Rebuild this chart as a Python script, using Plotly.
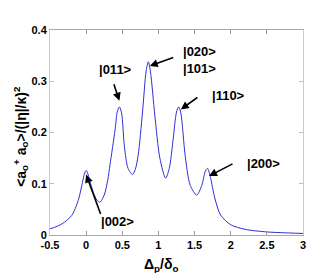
import plotly.graph_objects as go

x_vals = [-0.5, -0.4, -0.3, -0.2, -0.15, -0.1, -0.05, -0.02, 0.0, 0.02, 0.05, 0.1, 0.15, 0.19,
          0.25, 0.3, 0.33, 0.4, 0.43, 0.46, 0.49, 0.53, 0.58, 0.64, 0.68, 0.72, 0.78, 0.83,
          0.86, 0.89, 0.95, 1.02, 1.1, 1.15, 1.2, 1.25, 1.28, 1.31, 1.37, 1.44, 1.53, 1.6,
          1.65, 1.68, 1.72, 1.78, 1.86, 2.0, 2.2, 2.5, 2.8, 3.0]
y_vals = [0.012, 0.017, 0.025, 0.038, 0.052, 0.072, 0.103, 0.121, 0.126, 0.121, 0.106, 0.083, 0.068, 0.064,
          0.078, 0.108, 0.137, 0.205, 0.24, 0.25, 0.238, 0.172, 0.13, 0.118, 0.128, 0.156, 0.24, 0.32,
          0.338, 0.318, 0.234, 0.15, 0.111, 0.13, 0.182, 0.24, 0.25, 0.238, 0.155, 0.097, 0.078, 0.097,
          0.125, 0.13, 0.112, 0.072, 0.039, 0.02, 0.011, 0.006, 0.004, 0.003]

x_ticks = [-0.5, 0, 0.5, 1, 1.5, 2, 2.5, 3]
x_tick_labels = ["-0.5", "0", "0.5", "1", "1.5", "2", "2.5", "3"]
y_ticks = [0, 0.1, 0.2, 0.3, 0.4]
y_tick_labels = ["0", "0.1", "0.2", "0.3", "0.4"]

state_labels = ["|002>", "|011>", "|020><br>|101>", "|110>", "|200>"]
label_x = [0.44, 0.41, 1.31, 1.71, 2.20]
label_y = [0.026, 0.322, 0.341, 0.272, 0.140]
label_anchor = ["center", "center", "left", "left", "left"]
arrow_x = [0.0, 0.46, 0.88, 1.31, 1.70]
arrow_y = [0.118, 0.262, 0.33, 0.245, 0.115]
arrow_ax = [15, -6, 25, 18, 25]
arrow_ay = [41, -18, -9, -13, -13]

FONT = "Liberation Sans Narrow, Arial Narrow, Liberation Sans, Arial"

fig = go.Figure()
fig.add_trace(go.Scatter(x=x_vals, y=y_vals, mode="lines",
                         line=dict(color="#2f2fd8", width=1, shape="spline", smoothing=0.8),
                         showlegend=False, hoverinfo="skip"))

annotations = []
for t, lx, ly, anc in zip(state_labels, label_x, label_y, label_anchor):
    annotations.append(dict(x=lx, y=ly, xref="x", yref="y", text="<b>" + t + "</b>",
                            showarrow=False, xanchor=anc, align="left",
                            font=dict(family=FONT, size=13, color="black")))
for hx, hy, axp, ayp in zip(arrow_x, arrow_y, arrow_ax, arrow_ay):
    annotations.append(dict(x=hx, y=hy, xref="x", yref="y", text="", showarrow=True,
                            ax=axp, ay=ayp, arrowhead=2, arrowsize=1, arrowwidth=1.6,
                            arrowcolor="black"))

annotations.append(dict(x=-0.165, y=0.48, xref="paper", yref="paper", textangle=-90,
                        text="<b>&lt;a<sub>o</sub><sup>+</sup> a<sub>o</sub>&gt;/(|η|/κ)<sup>2</sup></b>",
                        showarrow=False, font=dict(family=FONT, size=14, color="black")))
annotations.append(dict(x=0.44, y=-0.095, xref="paper", yref="paper", yanchor="top",
                        text="<b>Δ<sub>p</sub>/δ<sub>o</sub></b>",
                        showarrow=False, font=dict(family=FONT, size=14, color="black")))

fig.update_layout(
    width=327, height=273,
    margin=dict(l=42, r=32, t=22, b=46),
    paper_bgcolor="white", plot_bgcolor="white",
    annotations=annotations,
    xaxis=dict(range=[-0.5, 3], tickvals=x_ticks,
               ticktext=["<b>" + s + "</b>" for s in x_tick_labels],
               ticks="inside", ticklen=4, tickcolor="#999", showgrid=False, zeroline=False,
               showline=True, linecolor="#aaa", linewidth=1, mirror="ticks",
               tickfont=dict(family=FONT, size=11, color="black")),
    yaxis=dict(range=[0, 0.4], tickvals=y_ticks,
               ticktext=["<b>" + s + "</b>" for s in y_tick_labels],
               ticks="inside", ticklen=4, tickcolor="#bbb", showgrid=False, zeroline=False,
               showline=True, linecolor="#ccc", linewidth=1, mirror="ticks",
               tickfont=dict(family=FONT, size=11, color="black")),
)

fig.write_html("out.html")
